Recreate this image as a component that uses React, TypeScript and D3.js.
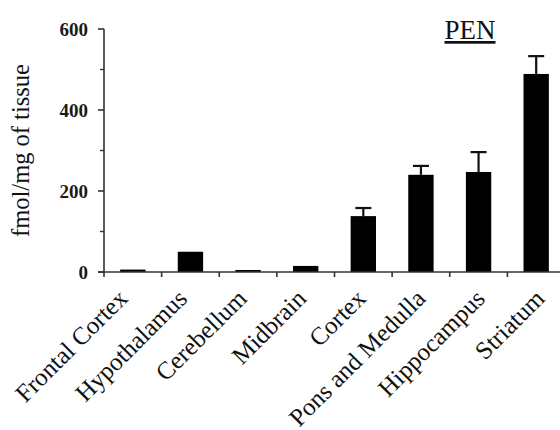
import React, { useEffect, useRef } from 'react';
import * as d3 from 'd3';

const regions = ['Frontal Cortex', 'Hypothalamus', 'Cerebellum', 'Midbrain', 'Cortex', 'Pons and Medulla', 'Hippocampus', 'Striatum'];
const means = [6, 50, 5, 15, 138, 240, 247, 489];
const errors = [1, 2, 1, 2, 20, 22, 49, 44];
const majorTicks = [0, 200, 400, 600];
const minorTicks = [100, 300, 500];

const App = () => {
  const svgRef = useRef<SVGSVGElement>(null);

  useEffect(() => {
    const svg = d3.select(svgRef.current);
    svg.selectAll('*').remove();

    const width = 560;
    const height = 430;
    const font = '"Liberation Serif", "Times New Roman", serif';

    svg.attr('width', width).attr('height', height);

    const x = d3.scaleBand<string>()
      .domain(regions)
      .range([104, 565])
      .paddingInner(0.56)
      .paddingOuter(0.28);

    // labels sit on a slightly wider spacing than the bars
    const labelX = d3.scalePoint<string>()
      .domain(regions)
      .range([129, 546]);

    const y = d3.scaleLinear().domain([0, 600]).range([272, 29]);

    const data = regions.map((r, i) => ({ region: r, mean: means[i], err: errors[i] }));
    const step = x.step();
    const x0 = x.range()[0];

    // bars
    svg.selectAll('.bar')
      .data(data)
      .enter()
      .append('rect')
      .attr('x', d => x(d.region)!)
      .attr('width', x.bandwidth())
      .attr('y', d => y(d.mean))
      .attr('height', d => y(0) - y(d.mean))
      .style('fill', '#000');

    // error bars (upper only)
    const eb = svg.selectAll('.err')
      .data(data.filter(d => d.err > 3))
      .enter()
      .append('g');
    eb.append('line')
      .attr('x1', d => x(d.region)! + x.bandwidth() / 2)
      .attr('x2', d => x(d.region)! + x.bandwidth() / 2)
      .attr('y1', d => y(d.mean))
      .attr('y2', d => y(d.mean + d.err))
      .style('stroke', '#111')
      .style('stroke-width', 2.2);
    eb.append('line')
      .attr('x1', d => x(d.region)! + x.bandwidth() / 2 - 8)
      .attr('x2', d => x(d.region)! + x.bandwidth() / 2 + 8)
      .attr('y1', d => y(d.mean + d.err))
      .attr('y2', d => y(d.mean + d.err))
      .style('stroke', '#111')
      .style('stroke-width', 2.2);

    // y axis
    const axisColor = '#333';
    svg.append('line')
      .attr('x1', x0).attr('x2', x0)
      .attr('y1', y(600)).attr('y2', y(0))
      .style('stroke', axisColor).style('stroke-width', 1.6);
    svg.selectAll('.ymaj')
      .data(majorTicks)
      .enter()
      .append('line')
      .attr('x1', x0 - 6).attr('x2', x0)
      .attr('y1', d => y(d)).attr('y2', d => y(d))
      .style('stroke', axisColor).style('stroke-width', 1.6);
    svg.selectAll('.ymin')
      .data(minorTicks)
      .enter()
      .append('line')
      .attr('x1', x0 - 4).attr('x2', x0)
      .attr('y1', d => y(d)).attr('y2', d => y(d))
      .style('stroke', axisColor).style('stroke-width', 1.4);
    svg.selectAll('.ylab')
      .data(majorTicks)
      .enter()
      .append('text')
      .attr('x', 88)
      .attr('y', d => y(d))
      .attr('dy', '0.35em')
      .attr('text-anchor', 'end')
      .style('font-family', font)
      .style('font-size', '19px')
      .style('font-weight', 'bold')
      .style('fill', '#1a1a1a')
      .text(d => d);

    // x axis
    svg.append('line')
      .attr('x1', x0 - 6).attr('x2', width)
      .attr('y1', y(0)).attr('y2', y(0))
      .style('stroke', axisColor).style('stroke-width', 1.6);
    svg.selectAll('.xtick')
      .data(d3.range(regions.length + 1))
      .enter()
      .append('line')
      .attr('x1', i => x0 + i * step).attr('x2', i => x0 + i * step)
      .attr('y1', y(0)).attr('y2', y(0) + 5)
      .style('stroke', axisColor).style('stroke-width', 1.6);

    svg.selectAll('.xlab')
      .data(regions)
      .enter()
      .append('text')
      .attr('transform', d => `translate(${labelX(d)},${y(0) + 28}) rotate(-45)`)
      .attr('text-anchor', 'end')
      .style('font-family', font)
      .style('font-size', '25px')
      .style('fill', '#111')
      .text(d => d);

    // y axis title
    svg.append('text')
      .attr('transform', `translate(29,${(62 + 239) / 2}) rotate(-90)`)
      .attr('text-anchor', 'middle')
      .style('font-family', font)
      .style('font-size', '24.5px')
      .style('fill', '#111')
      .text('fmol/mg of tissue');

    // panel title
    svg.append('text')
      .attr('x', 470)
      .attr('y', 39)
      .attr('text-anchor', 'middle')
      .style('font-family', font)
      .style('font-size', '27px')
      .style('text-decoration', 'underline')
      .style('fill', '#111')
      .text('PEN');
  }, []);

  return (
    <div style={{ position: 'absolute', left: 0, top: 0 }}>
      <svg ref={svgRef} style={{ display: 'block', background: '#fff' }}></svg>
    </div>
  );
};

export default App;
